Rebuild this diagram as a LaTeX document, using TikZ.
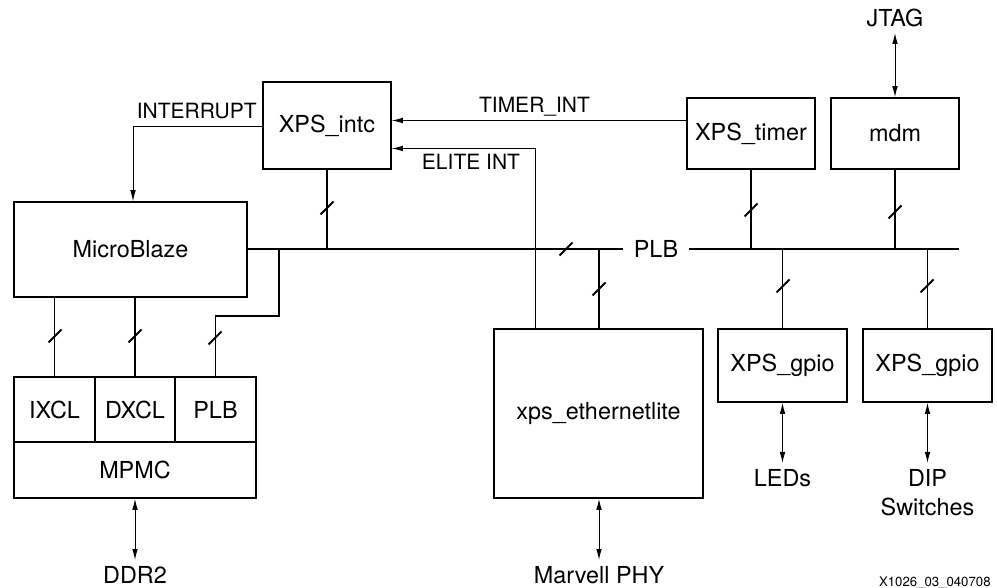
\documentclass[tikz,border=0pt]{standalone}
\usepackage{fontspec}
\setmainfont{TeX Gyre Heros}
\usetikzlibrary{arrows.meta}
\begin{document}
\begin{tikzpicture}[x=0.5pt,y=-0.5pt,
  blk/.style={draw,line width=0.8pt,inner sep=0pt,font=\fontsize{11.7}{14}\selectfont},
  bus/.style={line width=0.8pt},
  sigarrow/.style={line width=0.4pt,-{Latex[length=5.5pt,width=2.8pt]}},
  dblarrow/.style={line width=0.5pt,{Latex[length=5.5pt,width=2.8pt]}-{Latex[length=5.5pt,width=2.8pt]}},
  slashmark/.style={line width=0.9pt},
  biglabel/.style={inner sep=3pt,font=\fontsize{11.7}{14.5}\selectfont,align=center},
  smalllabel/.style={inner sep=0pt,font=\fontsize{10.5}{12}\selectfont}]
\useasboundingbox (0,0) rectangle (997,588);

% boxes
\node[blk,minimum width=64pt,minimum height=43.5pt] (intc) at (327,125.5) {XPS\_intc};
\node[blk,minimum width=64pt,minimum height=35.5pt] (timer) at (751,133.5) {XPS\_timer};
\node[blk,minimum width=64pt,minimum height=35.5pt] (mdm) at (895,133.5) {mdm};
\node[blk,minimum width=116.5pt,minimum height=47.5pt] (mb) at (130.5,249.5) {MicroBlaze};
\node[blk,minimum width=40.5pt,minimum height=32.5pt] (ixcl) at (54.5,409.5) {IXCL};
\node[blk,minimum width=40pt,minimum height=32.5pt] (dxcl) at (135,409.5) {DXCL};
\node[blk,minimum width=40.5pt,minimum height=32.5pt] (plbm) at (215.5,409.5) {PLB};
\node[blk,minimum width=121pt,minimum height=28pt] (mpmc) at (135,470) {MPMC};
\node[blk,minimum width=104.5pt,minimum height=84.5pt] (eth) at (598.5,413.5) {xps\_ethernetlite};
\node[blk,minimum width=64.5pt,minimum height=36.5pt] (gpioa) at (782.5,365.5) {XPS\_gpio};
\node[blk,minimum width=64.5pt,minimum height=36.5pt] (gpiob) at (927.5,365.5) {XPS\_gpio};

% outer labels
\node[biglabel,anchor=south] (jtag) at (895,33) {JTAG};
\node[biglabel,anchor=north] (ddr) at (135,560) {DDR2};
\node[biglabel,anchor=north] (phy) at (599,560) {Marvell PHY};
\node[biglabel,anchor=north] (leds) at (782.5,463) {LEDs};
\node[biglabel,anchor=north] (dip) at (927.5,463) {DIP\\Switches};
\node[inner sep=0pt,font=\fontsize{11.7}{14}\selectfont] (plb) at (656,249) {PLB};

% bus
\coordinate (busg1) at (623,249);
\coordinate (busg2) at (689,249);
\coordinate (busr) at (959,249);
\coordinate (tapa) at (279,249);
\coordinate (tapb) at (279,316);
\draw[bus] (mb.east |- busg1) -- (busg1);
\draw[bus] (busg2) -- (busr);

% bus taps
\draw[bus] (intc.south) -- (intc.south |- busg1);
\draw[bus] (timer.south) -- (timer.south |- busg1);
\draw[bus] (mdm.south) -- (mdm.south |- busg1);
\draw[bus] (eth.north -| phy) -- (phy |- busg1);
\draw[bus] (gpioa.north) -- (gpioa.north |- busg1);
\draw[bus] (gpiob.north) -- (gpiob.north |- busg1);
\draw[bus] (tapa) -- (tapb) -| (plbm.north);
\draw[bus] (ixcl.north) -- (ixcl.north |- mb.south);
\draw[bus] (dxcl.north) -- (dxcl.north |- mb.south);

% slash marks
\foreach \p in {(327,208),(55,336),(135,336),(215,338),(566,249),(599,289),(751,210),(895,212),(783,286),(927,286)}
  \draw[slashmark] \p ++(-6.5,6.5) -- ++(13,-13);

% interrupt signals
\coordinate (intk) at (133,126);
\draw[sigarrow] (intc.west |- intk) -- (intk) -- (intk |- mb.north);
\node[smalllabel,anchor=base east] (intlbl) at (257,119) {INTERRUPT};

\coordinate (ti) at (0,120.5);
\draw[sigarrow] (timer.west |- ti) -- (intc.east |- ti);
\node[smalllabel,anchor=base] (tilbl) at (534.5,113) {TIMER\_INT};

\coordinate (el) at (535,148.5);
\draw[sigarrow] (el |- eth.north) -- (el) -- (intc.east |- el);
\node[smalllabel,anchor=base] (ellbl) at (471,170) {ELITE INT};

% external arrows
\draw[dblarrow] (mdm.north) -- (jtag.south);
\draw[dblarrow] (mpmc.south) -- (ddr.north);
\draw[dblarrow] (eth.south -| phy) -- (phy.north);
\draw[dblarrow] (gpioa.south) -- (leds.north);
\draw[dblarrow] (gpiob.south) -- (dip.north);

% footer
\node[inner sep=0pt,anchor=base east,font=\fontsize{6.6}{8}\selectfont] (fig) at (991,586) {X1026\_03\_040708};
\end{tikzpicture}
\end{document}
